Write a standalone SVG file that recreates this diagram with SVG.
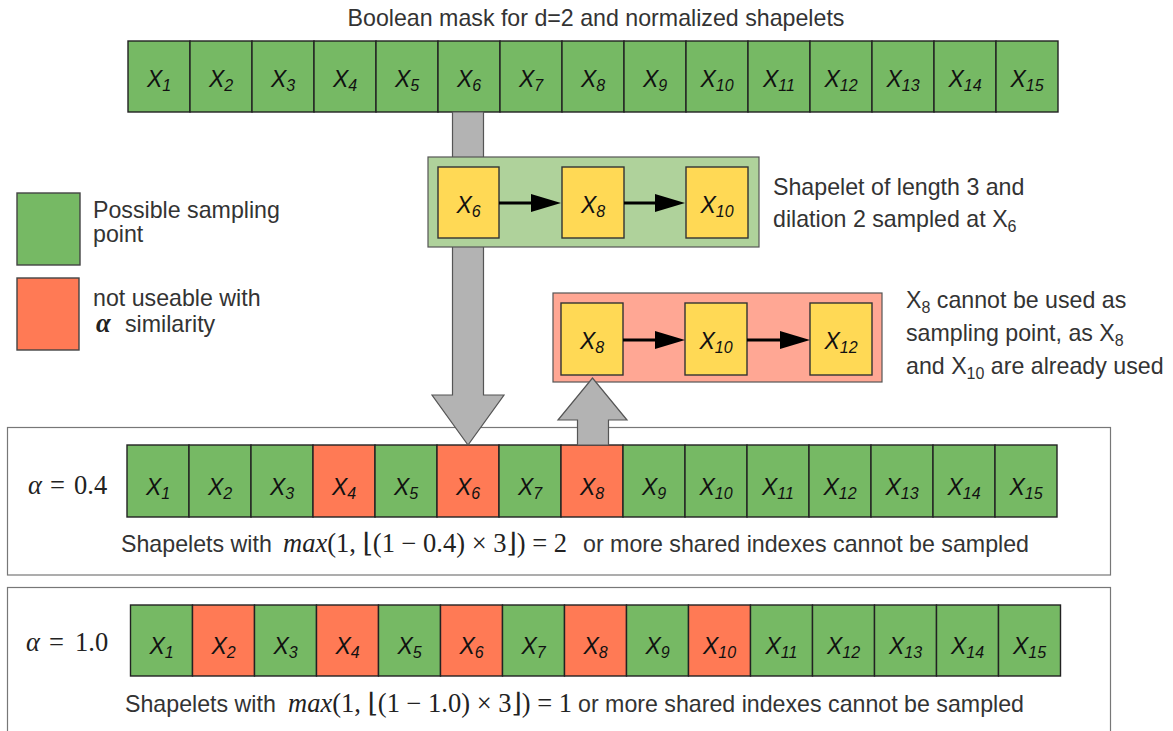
<svg xmlns="http://www.w3.org/2000/svg" width="1173" height="731" viewBox="0 0 1173 731">
<defs>
<style>
.cg{fill:#76b964;stroke:#222;stroke-width:1.4}
.cr{fill:#ff7a55;stroke:#222;stroke-width:1.4}
.cy{fill:#ffd955;stroke:#333;stroke-width:1.4}
.lbl{font-family:"Liberation Sans",Arial,sans-serif;font-style:italic;font-size:23px;fill:#111;text-anchor:middle}
.sub{font-size:16px}
.t{font-family:"Liberation Sans",Arial,sans-serif;font-size:23.2px;fill:#333}
.m{font-family:"Liberation Serif","DejaVu Serif",serif;font-size:26.5px;fill:#222}
.box{fill:#fff;stroke:#777;stroke-width:1.2}
.garrow{fill:#b3b3b3;stroke:#555;stroke-width:1.2}
.conn{stroke:#000;stroke-width:3;fill:none}
</style>
<marker id="ah" markerUnits="userSpaceOnUse" markerWidth="30" markerHeight="18" refX="1" refY="9" orient="auto">
<path d="M0,0 L30,9 L0,18 z" fill="#000"/>
</marker>
</defs>
<rect width="1173" height="731" fill="#fff"/>

<g id="title"><text class="t" x="596" y="26" text-anchor="middle">Boolean mask for d=2 and normalized shapelets</text></g>

<g id="panel-a04"><rect class="box" x="7.5" y="427.5" width="1103" height="147.5"/></g>
<g id="panel-a10"><rect class="box" x="7.5" y="587.5" width="1103" height="150"/></g>

<g id="row-top">
<rect class="cg" x="128" y="41" width="62" height="71"/><text class="lbl" x="159" y="87">X<tspan class="sub" dy="4">1</tspan></text>
<rect class="cg" x="190" y="41" width="62" height="71"/><text class="lbl" x="221" y="87">X<tspan class="sub" dy="4">2</tspan></text>
<rect class="cg" x="252" y="41" width="62" height="71"/><text class="lbl" x="283" y="87">X<tspan class="sub" dy="4">3</tspan></text>
<rect class="cg" x="314" y="41" width="62" height="71"/><text class="lbl" x="345" y="87">X<tspan class="sub" dy="4">4</tspan></text>
<rect class="cg" x="376" y="41" width="62" height="71"/><text class="lbl" x="407" y="87">X<tspan class="sub" dy="4">5</tspan></text>
<rect class="cg" x="438" y="41" width="62" height="71"/><text class="lbl" x="469" y="87">X<tspan class="sub" dy="4">6</tspan></text>
<rect class="cg" x="500" y="41" width="62" height="71"/><text class="lbl" x="531" y="87">X<tspan class="sub" dy="4">7</tspan></text>
<rect class="cg" x="562" y="41" width="62" height="71"/><text class="lbl" x="593" y="87">X<tspan class="sub" dy="4">8</tspan></text>
<rect class="cg" x="624" y="41" width="62" height="71"/><text class="lbl" x="655" y="87">X<tspan class="sub" dy="4">9</tspan></text>
<rect class="cg" x="686" y="41" width="62" height="71"/><text class="lbl" x="717" y="87">X<tspan class="sub" dy="4">10</tspan></text>
<rect class="cg" x="748" y="41" width="62" height="71"/><text class="lbl" x="779" y="87">X<tspan class="sub" dy="4">11</tspan></text>
<rect class="cg" x="810" y="41" width="62" height="71"/><text class="lbl" x="841" y="87">X<tspan class="sub" dy="4">12</tspan></text>
<rect class="cg" x="872" y="41" width="62" height="71"/><text class="lbl" x="903" y="87">X<tspan class="sub" dy="4">13</tspan></text>
<rect class="cg" x="934" y="41" width="62" height="71"/><text class="lbl" x="965" y="87">X<tspan class="sub" dy="4">14</tspan></text>
<rect class="cg" x="996" y="41" width="62" height="71"/><text class="lbl" x="1027" y="87">X<tspan class="sub" dy="4">15</tspan></text>
</g>

<g id="row-a04">
<rect class="cg" x="127" y="445" width="62" height="72"/><text class="lbl" x="158" y="495">X<tspan class="sub" dy="4">1</tspan></text>
<rect class="cg" x="189" y="445" width="62" height="72"/><text class="lbl" x="220" y="495">X<tspan class="sub" dy="4">2</tspan></text>
<rect class="cg" x="251" y="445" width="62" height="72"/><text class="lbl" x="282" y="495">X<tspan class="sub" dy="4">3</tspan></text>
<rect class="cr" x="313" y="445" width="62" height="72"/><text class="lbl" x="344" y="495">X<tspan class="sub" dy="4">4</tspan></text>
<rect class="cg" x="375" y="445" width="62" height="72"/><text class="lbl" x="406" y="495">X<tspan class="sub" dy="4">5</tspan></text>
<rect class="cr" x="437" y="445" width="62" height="72"/><text class="lbl" x="468" y="495">X<tspan class="sub" dy="4">6</tspan></text>
<rect class="cg" x="499" y="445" width="62" height="72"/><text class="lbl" x="530" y="495">X<tspan class="sub" dy="4">7</tspan></text>
<rect class="cr" x="561" y="445" width="62" height="72"/><text class="lbl" x="592" y="495">X<tspan class="sub" dy="4">8</tspan></text>
<rect class="cg" x="623" y="445" width="62" height="72"/><text class="lbl" x="654" y="495">X<tspan class="sub" dy="4">9</tspan></text>
<rect class="cg" x="685" y="445" width="62" height="72"/><text class="lbl" x="716" y="495">X<tspan class="sub" dy="4">10</tspan></text>
<rect class="cg" x="747" y="445" width="62" height="72"/><text class="lbl" x="778" y="495">X<tspan class="sub" dy="4">11</tspan></text>
<rect class="cg" x="809" y="445" width="62" height="72"/><text class="lbl" x="840" y="495">X<tspan class="sub" dy="4">12</tspan></text>
<rect class="cg" x="871" y="445" width="62" height="72"/><text class="lbl" x="902" y="495">X<tspan class="sub" dy="4">13</tspan></text>
<rect class="cg" x="933" y="445" width="62" height="72"/><text class="lbl" x="964" y="495">X<tspan class="sub" dy="4">14</tspan></text>
<rect class="cg" x="995" y="445" width="62" height="72"/><text class="lbl" x="1026" y="495">X<tspan class="sub" dy="4">15</tspan></text>
</g>

<g id="row-a10">
<rect class="cg" x="130.5" y="605" width="62" height="71"/><text class="lbl" x="161.5" y="654">X<tspan class="sub" dy="4">1</tspan></text>
<rect class="cr" x="192.5" y="605" width="62" height="71"/><text class="lbl" x="223.5" y="654">X<tspan class="sub" dy="4">2</tspan></text>
<rect class="cg" x="254.5" y="605" width="62" height="71"/><text class="lbl" x="285.5" y="654">X<tspan class="sub" dy="4">3</tspan></text>
<rect class="cr" x="316.5" y="605" width="62" height="71"/><text class="lbl" x="347.5" y="654">X<tspan class="sub" dy="4">4</tspan></text>
<rect class="cg" x="378.5" y="605" width="62" height="71"/><text class="lbl" x="409.5" y="654">X<tspan class="sub" dy="4">5</tspan></text>
<rect class="cr" x="440.5" y="605" width="62" height="71"/><text class="lbl" x="471.5" y="654">X<tspan class="sub" dy="4">6</tspan></text>
<rect class="cg" x="502.5" y="605" width="62" height="71"/><text class="lbl" x="533.5" y="654">X<tspan class="sub" dy="4">7</tspan></text>
<rect class="cr" x="564.5" y="605" width="62" height="71"/><text class="lbl" x="595.5" y="654">X<tspan class="sub" dy="4">8</tspan></text>
<rect class="cg" x="626.5" y="605" width="62" height="71"/><text class="lbl" x="657.5" y="654">X<tspan class="sub" dy="4">9</tspan></text>
<rect class="cr" x="688.5" y="605" width="62" height="71"/><text class="lbl" x="719.5" y="654">X<tspan class="sub" dy="4">10</tspan></text>
<rect class="cg" x="750.5" y="605" width="62" height="71"/><text class="lbl" x="781.5" y="654">X<tspan class="sub" dy="4">11</tspan></text>
<rect class="cg" x="812.5" y="605" width="62" height="71"/><text class="lbl" x="843.5" y="654">X<tspan class="sub" dy="4">12</tspan></text>
<rect class="cg" x="874.5" y="605" width="62" height="71"/><text class="lbl" x="905.5" y="654">X<tspan class="sub" dy="4">13</tspan></text>
<rect class="cg" x="936.5" y="605" width="62" height="71"/><text class="lbl" x="967.5" y="654">X<tspan class="sub" dy="4">14</tspan></text>
<rect class="cg" x="998.5" y="605" width="62" height="71"/><text class="lbl" x="1029.5" y="654">X<tspan class="sub" dy="4">15</tspan></text>
</g>

<g id="connectors">
<polygon id="arrow-down" class="garrow" points="452.5,112 483.5,112 483.5,395 504,395 468,445 432,395 452.5,395"/>
</g>

<g id="shapelet-ok">
<rect x="428" y="157" width="331" height="90" fill="#afd29b" stroke="#555" stroke-width="1.2"/>
<rect class="cy" x="438" y="167" width="61" height="71"/><text class="lbl" x="468.5" y="213">X<tspan class="sub" dy="4">6</tspan></text>
<rect class="cy" x="562" y="167" width="62" height="71"/><text class="lbl" x="593" y="213">X<tspan class="sub" dy="4">8</tspan></text>
<rect class="cy" x="686" y="167" width="62" height="71"/><text class="lbl" x="717" y="213">X<tspan class="sub" dy="4">10</tspan></text>
<line class="conn" x1="499" y1="203" x2="532" y2="203" marker-end="url(#ah)"/>
<line class="conn" x1="624" y1="203" x2="656" y2="203" marker-end="url(#ah)"/>
</g>

<g id="shapelet-bad">
<rect x="553" y="293" width="329" height="89" fill="#ffa794" stroke="#555" stroke-width="1.2"/>
<rect class="cy" x="561" y="303" width="62" height="72"/><text class="lbl" x="592" y="349">X<tspan class="sub" dy="4">8</tspan></text>
<rect class="cy" x="685" y="303" width="62" height="72"/><text class="lbl" x="716" y="349">X<tspan class="sub" dy="4">10</tspan></text>
<rect class="cy" x="810" y="303" width="62" height="72"/><text class="lbl" x="841" y="349">X<tspan class="sub" dy="4">12</tspan></text>
<line class="conn" x1="623" y1="340" x2="656" y2="340" marker-end="url(#ah)"/>
<line class="conn" x1="747" y1="340" x2="781" y2="340" marker-end="url(#ah)"/>
</g>

<g id="arrow-up-g">
<polygon id="arrow-up" class="garrow" points="577.5,445 608.5,445 608.5,420 627,420 592.5,378 558,420 577.5,420"/>
</g>

<g id="legend">
<rect x="17" y="193" width="63" height="72" fill="#76b964" stroke="#444" stroke-width="1.4"/>
<rect x="17" y="278" width="62" height="72" fill="#ff7a55" stroke="#444" stroke-width="1.4"/>
<text class="t" x="93" y="218">Possible sampling</text>
<text class="t" x="93" y="242">point</text>
<text class="t" x="93" y="306">not useable with</text>
<text class="t" x="96" y="332"><tspan class="m" font-style="italic" font-weight="bold" font-size="28px">α</tspan><tspan x="125">similarity</tspan></text>
</g>

<g id="note-ok">
<text class="t" x="773" y="195">Shapelet of length 3 and</text>
<text class="t" x="773" y="227">dilation 2 sampled at X<tspan font-size="16px" dy="5">6</tspan></text>
</g>

<g id="note-bad">
<text class="t" x="906" y="308">X<tspan font-size="16px" dy="5">8</tspan><tspan dy="-5"> cannot be used as</tspan></text>
<text class="t" x="906" y="341">sampling point, as X<tspan font-size="16px" dy="5">8</tspan></text>
<text class="t" x="906" y="374">and X<tspan font-size="16px" dy="5">10</tspan><tspan dy="-5"> are already used</tspan></text>
</g>

<g id="label-a04">
<text class="m" y="494" font-size="26px"><tspan x="28" font-style="italic">α</tspan><tspan x="50">=</tspan><tspan x="74">0.4</tspan></text>
<text class="t" x="121" y="552">Shapelets with</text>
<text class="m" x="283" y="552"><tspan font-style="italic">max</tspan>(1, ⌊(1 − 0.4) × 3⌋) = 2</text>
<text class="t" x="583" y="552">or more shared indexes cannot be sampled</text>
</g>

<g id="label-a10">
<text class="m" y="651" font-size="26px"><tspan x="26" font-style="italic">α</tspan><tspan x="49">=</tspan><tspan x="75">1.0</tspan></text>
<text class="t" x="125" y="712">Shapelets with</text>
<text class="m" x="288" y="712"><tspan font-style="italic">max</tspan>(1, ⌊(1 − 1.0) × 3⌋) = 1</text>
<text class="t" x="578" y="712">or more shared indexes cannot be sampled</text>
</g>
</svg>
